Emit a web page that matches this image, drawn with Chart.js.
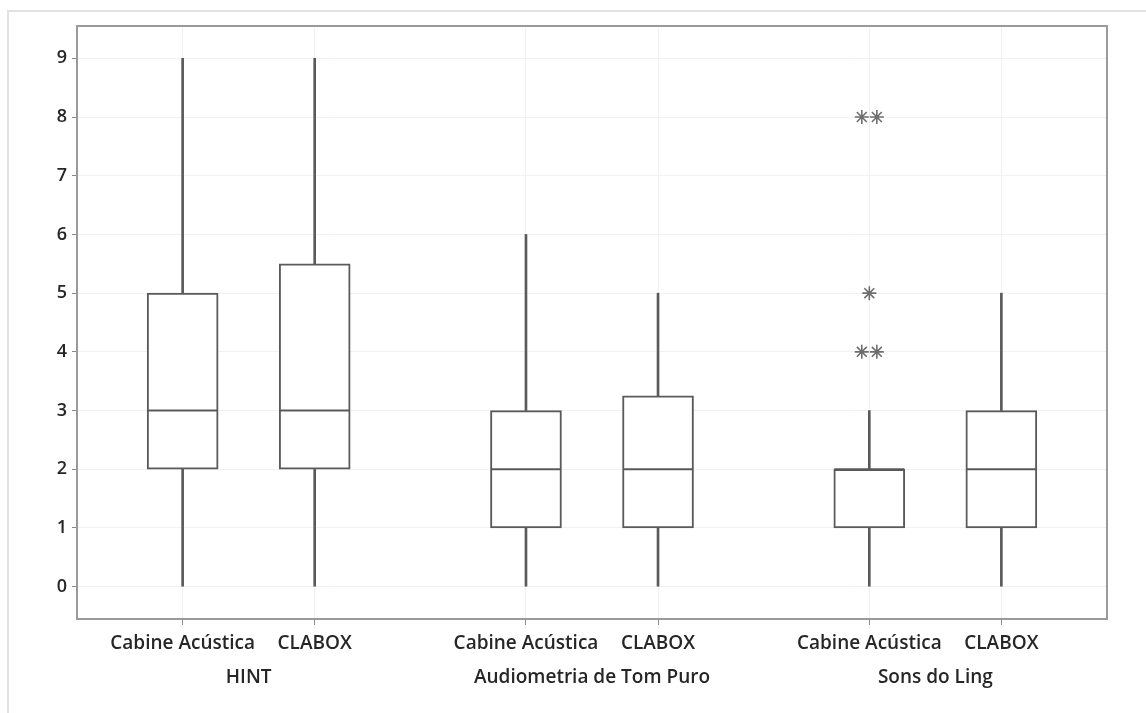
<!DOCTYPE html>
<html>
<head>
<meta charset="utf-8">
<script src="https://cdn.jsdelivr.net/npm/chart.js@4.4.0/dist/chart.umd.min.js"></script>
<style>
  html, body { margin: 0; padding: 0; background: #fff; }
  #wrap { position: relative; width: 1146px; height: 713px; }
  #edge { position: absolute; left: 7px; top: 10px; right: 0; bottom: 0;
          border-top: 2px solid #e2e2e2; border-left: 2px solid #e2e2e2; }
  canvas { position: absolute; left: 0; top: 0; }
</style>
</head>
<body>
<div id="wrap">
  <div id="edge"></div>
  <canvas id="chart" width="1146" height="713"></canvas>
</div>
<script>
"use strict";

// categories
const groupLabels = ["HINT", "Audiometria de Tom Puro", "Sons do Ling"];
const boxLabels = ["Cabine Acústica", "CLABOX", "Cabine Acústica", "CLABOX", "Cabine Acústica", "CLABOX"];
const boxGroup = [0, 0, 1, 1, 2, 2];

// five-number summaries per box
const whiskerLow = [0, 0, 0, 0, 0, 0];
const q1 = [2, 2, 1, 1, 1, 1];
const median = [3, 3, 2, 2, 2, 2];
const q3 = [5, 5.5, 3, 3.25, 2, 3];
const whiskerHigh = [9, 9, 6, 5, 3, 5];
const outliers = [[], [], [], [], [8, 8, 5, 4, 4], []];

// tick labels
const yTicks = [0, 1, 2, 3, 4, 5, 6, 7, 8, 9];

// layout: where each box sits on the x scale
const GROUP_STEP = 2.6;
const tieSpread = 0.057;
var boxPos = boxLabels.map(function (l, i) {
    var inGroup = i - boxGroup.indexOf(boxGroup[i]);
    return boxGroup[i] * GROUP_STEP + inGroup;
});
var groupPos = groupLabels.map(function (g, gi) {
    var idx = [];
    boxGroup.forEach(function (b, i) { if (b === gi) idx.push(boxPos[i]); });
    return (idx[0] + idx[idx.length - 1]) / 2;
});

var LINE = "#5a5a5a";
var FONT = "'Open Sans', 'Noto Sans', sans-serif";

function boxData(lo, hi) {
    return boxPos.map(function (x, i) { return { x: x, y: [lo[i], hi[i]] }; });
}

// tied outliers are put side by side, like the original
var outlierPts = [];
outliers.forEach(function (list, i) {
    var counts = {};
    list.forEach(function (v) { counts[v] = (counts[v] || 0) + 1; });
    Object.keys(counts).forEach(function (k) {
        var n = counts[k];
        for (var j = 0; j < n; j++) {
            var off = n > 1 ? (j - (n - 1) / 2) * 2 * tieSpread / (n - 1) : 0;
            outlierPts.push({ x: boxPos[i] + off, y: Number(k) });
        }
    });
});

var framePlugin = {
    id: "frame",
    afterDraw: function (chart) {
        var a = chart.chartArea, ctx = chart.ctx;
        ctx.save();
        ctx.strokeStyle = "#9a9a9a";
        ctx.lineWidth = 2;
        ctx.strokeRect(a.left, a.top, a.right - a.left, a.bottom - a.top);
        ctx.restore();
    }
};

function noPad(s) {
    s.paddingTop = 0; s.paddingBottom = 0; s.paddingLeft = 0; s.paddingRight = 0;
}

var ctx = document.getElementById("chart").getContext("2d");
new Chart(ctx, {
    type: "bar",
    plugins: [framePlugin],
    data: {
        datasets: [
            {
                label: "lower whisker",
                data: boxData(whiskerLow, q1),
                backgroundColor: LINE,
                borderWidth: 0,
                barThickness: 2,
                grouped: false,
                order: 3
            },
            {
                label: "upper whisker",
                data: boxData(q3, whiskerHigh),
                backgroundColor: LINE,
                borderWidth: 0,
                barThickness: 2,
                grouped: false,
                order: 3
            },
            {
                label: "box",
                data: boxData(q1, q3),
                backgroundColor: "#ffffff",
                borderColor: LINE,
                borderWidth: 2,
                borderSkipped: false,
                barThickness: 71,
                grouped: false,
                order: 2
            },
            {
                type: "line",
                label: "median",
                data: boxPos.map(function (x, i) { return { x: x, y: median[i] }; }),
                showLine: false,
                pointStyle: "line",
                pointRadius: 35,
                pointBorderWidth: 2,
                pointBorderColor: LINE,
                order: 1
            },
            {
                type: "line",
                label: "outliers",
                data: outlierPts,
                showLine: false,
                pointStyle: "star",
                pointRadius: 7,
                pointBorderWidth: 1.6,
                pointBorderColor: "#6e6e6e",
                order: 0
            }
        ]
    },
    options: {
        responsive: false,
        animation: false,
        events: [],
        layout: { autoPadding: false, padding: { left: 0, right: 39, top: 26, bottom: 14 } },
        plugins: { legend: { display: false }, tooltip: { enabled: false } },
        scales: {
            x: {
                type: "linear",
                position: "bottom",
                min: -0.8,
                max: 7.0,
                offset: false,
                border: { display: false },
                grid: { color: "#f1f1f1", lineWidth: 1, offset: false, tickLength: 6, tickColor: "#8a8a8a" },
                afterBuildTicks: function (s) { s.ticks = boxPos.map(function (v) { return { value: v }; }); },
                afterFit: function (s) { s.height = 38; noPad(s); },
                ticks: {
                    autoSkip: false, maxRotation: 0, padding: 7,
                    color: "#262626", font: { family: FONT, size: 19, weight: "600" },
                    callback: function (v, i) { return boxLabels[i]; }
                }
            },
            x2: {
                type: "linear",
                position: "bottom",
                min: -0.8,
                max: 7.0,
                offset: false,
                border: { display: false },
                grid: { display: false, drawTicks: false },
                afterBuildTicks: function (s) { s.ticks = groupPos.map(function (v) { return { value: v }; }); },
                afterFit: function (s) { s.height = 42; noPad(s); },
                ticks: {
                    autoSkip: false, maxRotation: 0, padding: 9,
                    color: "#262626", font: { family: FONT, size: 19, weight: "600" },
                    callback: function (v, i) { return groupLabels[i]; }
                }
            },
            y: {
                type: "linear",
                min: -0.55,
                max: 9.55,
                border: { display: false },
                grid: { color: "#f1f1f1", lineWidth: 1, tickLength: 5, tickColor: "#8a8a8a" },
                afterBuildTicks: function (s) { s.ticks = yTicks.map(function (v) { return { value: v }; }); },
                afterFit: function (s) { s.width = 77; noPad(s); },
                ticks: {
                    padding: 5,
                    color: "#262626", font: { family: FONT, size: 18, weight: "600" },
                    callback: function (v) { return String(v); }
                }
            }
        }
    }
});
</script>
</body>
</html>
